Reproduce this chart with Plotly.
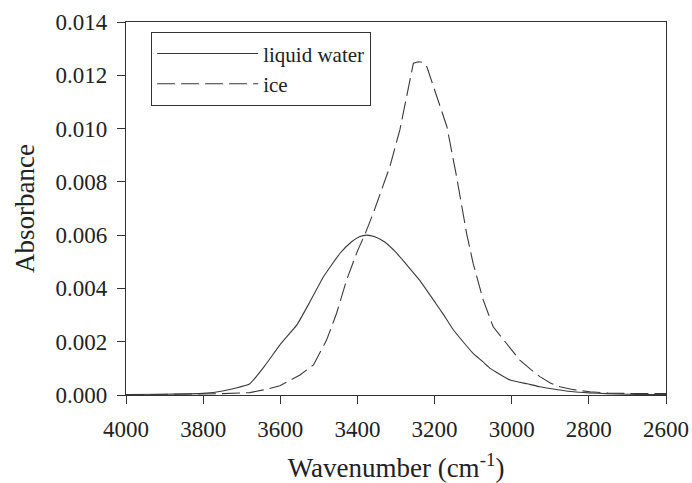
import plotly.graph_objects as go

# Liquid water spectrum (wavenumber in cm^-1, absorbance)
water_wn = [4000, 3900, 3800, 3750, 3680, 3640, 3600, 3557, 3523, 3488, 3445, 3415, 3395,
            3375, 3355, 3330, 3300, 3270, 3240, 3203, 3175, 3151, 3125, 3100, 3075, 3056,
            3030, 3004, 2960, 2927, 2880, 2840, 2800, 2754, 2700, 2650, 2600]
water_abs = [0.00002, 0.00003, 0.00006, 0.00015, 0.00041, 0.0011, 0.0019, 0.00263, 0.0035,
             0.00444, 0.00532, 0.00575, 0.00594, 0.00600, 0.00594, 0.00575, 0.00535, 0.00485,
             0.00433, 0.00357, 0.00298, 0.00244, 0.00198, 0.00156, 0.00125, 0.00100,
             0.00077, 0.00056, 0.00042, 0.00031, 0.00020, 0.00012, 0.00008, 0.00005,
             0.00003, 0.00002, 0.00002]

# Ice spectrum
ice_wn = [4000, 3900, 3800, 3750, 3679, 3640, 3601, 3549, 3514, 3480, 3454, 3428, 3400, 3380,
          3359, 3316, 3290, 3272, 3255, 3242, 3230, 3220, 3194, 3168, 3143, 3117, 3100, 3074,
          3048, 3013, 2979, 2950, 2927, 2900, 2875, 2840, 2797, 2750, 2700, 2650, 2600]
ice_abs = [0.00001, 0.00002, 0.00003, 0.00005, 0.00009, 0.0002, 0.00035, 0.00075, 0.00113,
           0.00206, 0.00307, 0.00432, 0.0054, 0.00605, 0.00682, 0.00857, 0.00995, 0.0112,
           0.01245, 0.01251, 0.01248, 0.01232, 0.0112, 0.01007, 0.0082, 0.00607, 0.00494,
           0.00357, 0.00256, 0.00194, 0.00131, 0.00095, 0.00069, 0.00045, 0.00031, 0.00020,
           0.00012, 0.00007, 0.00005, 0.00005, 0.00005]

series_names = ["liquid water", "ice"]
x_ticks = [4000, 3800, 3600, 3400, 3200, 3000, 2800, 2600]
y_ticks = [0.000, 0.002, 0.004, 0.006, 0.008, 0.010, 0.012, 0.014]

FONT = "Liberation Serif"
LINE = "#3a3a3a"
TEXT = "#222222"

fig = go.Figure()
fig.add_trace(go.Scatter(x=water_wn, y=water_abs, mode="lines", name=series_names[0],
                         line=dict(color=LINE, width=1.1, shape="spline", smoothing=0.4)))
fig.add_trace(go.Scatter(x=ice_wn, y=ice_abs, mode="lines", name=series_names[1],
                         line=dict(color=LINE, width=1.1, dash="18px,6px")))

axis_common = dict(showgrid=False, zeroline=False, showline=True, linecolor="#333333",
                   linewidth=1.3, mirror=True, ticks="outside", ticklen=8, tickwidth=1.3,
                   tickcolor="#333333", automargin=False,
                   tickfont=dict(family=FONT, size=23, color=TEXT))

fig.update_xaxes(range=[4000, 2600], tickvals=x_ticks, ticktext=[str(v) for v in x_ticks],
                 ticklabelstandoff=5,
                 title=dict(text="Wavenumber (cm<sup>-1</sup>)",
                            font=dict(family=FONT, size=27, color=TEXT), standoff=19),
                 **axis_common)
fig.update_yaxes(range=[0, 0.014], tickvals=y_ticks, ticktext=[f"{v:.3f}" for v in y_ticks],
                 ticklabelstandoff=5,
                 title=dict(text="Absorbance", font=dict(family=FONT, size=27, color=TEXT),
                            standoff=13),
                 **axis_common)

fig.update_layout(
    width=692, height=483,
    margin=dict(l=126, r=26, t=22, b=88),
    paper_bgcolor="white", plot_bgcolor="white",
    showlegend=True,
    legend=dict(x=0.046, y=0.973, xanchor="left", yanchor="top",
                bordercolor="#333333", borderwidth=1.3, bgcolor="white",
                font=dict(family=FONT, size=21, color=TEXT),
                itemwidth=101, tracegroupgap=0),
)

fig.write_html("out.html", config={"displayModeBar": False},
               post_script="document.body.style.margin='0';document.body.style.overflow='hidden';")
